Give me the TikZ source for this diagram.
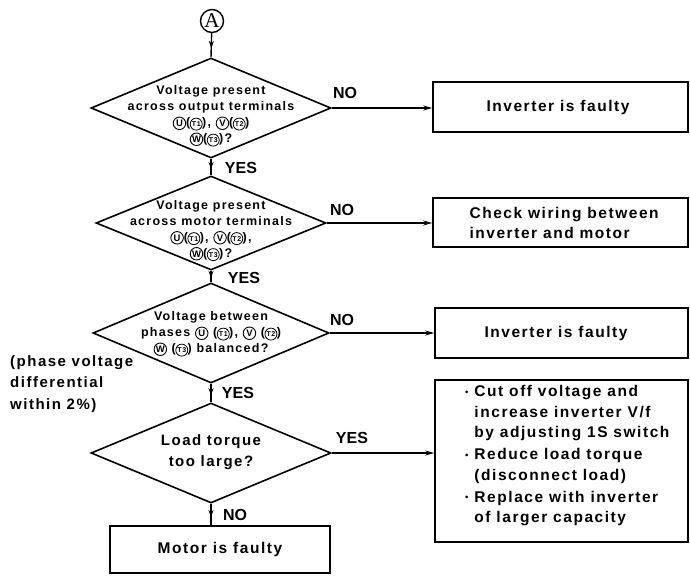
\documentclass[tikz,border=0pt]{standalone}
\usepackage{fontspec}
\setmainfont{Liberation Sans}
\newfontfamily\spfont{Liberation Sans}[LetterSpace=10]
\newfontfamily\serifA{Liberation Serif}
\usetikzlibrary{shapes.geometric,arrows.meta,decorations.markings}
\newcommand\cU[1]{\tikz[baseline=(cu.base)]\node[circle,draw,line width=0.9pt,inner sep=0pt,minimum size=12.5pt,font=\fontsize{9.5}{9.5}\selectfont\bfseries](cu){#1};}
\newcommand\cT[1]{(\kern-0.5pt\tikz[baseline=(ct.base)]\node[circle,draw,line width=0.8pt,inner sep=0pt,minimum size=12pt,font=\fontsize{7}{7}\selectfont\bfseries](ct){#1};\kern-0.5pt)}
\newcommand\smallbullet{\raisebox{1.5pt}{\scalebox{0.6}{\textbullet}}}
\tikzset{
  dia/.style={diamond,draw,line width=1.6pt,inner sep=0pt},
  dtext/.style={align=center,font=\spfont\bfseries\fontsize{12.5}{16}\selectfont},
  boxn/.style={rectangle,draw,line width=1.6pt,inner sep=0pt},
  btext/.style={font=\spfont\bfseries\fontsize{15.5}{20.5}\selectfont},
  lab/.style={font=\bfseries\fontsize{16}{16}\selectfont},
  vconn/.style={line width=1.4pt,postaction={decorate},decoration={markings,mark=at position 0.62 with {\arrow{Stealth[length=7pt,width=5pt]}}}},
  hconn/.style={line width=1.2pt,-{Stealth[length=9pt,width=5pt]}},
}
\begin{document}
\begin{tikzpicture}[x=1pt,y=-1pt]
\useasboundingbox (0,0) rectangle (690,583);
% start connector
\node[circle,draw,line width=1.4pt,minimum size=23pt,inner sep=0pt,font=\serifA\fontsize{21}{21}\selectfont] (A) at (212,21) {A};
% diamonds
\node[dia,minimum width=240pt,minimum height=100pt] (d1) at (211,108) {};
\node[dtext] (t1) at (211,116) {Voltage present\\across output terminals\\\cU{U}\cT{T1}, \cU{V}\cT{T2}\\\cU{W}\cT{T3}?};
\node[dia,minimum width=230pt,minimum height=94pt] (d2) at (211,223) {};
\node[dtext] (t2) at (211,230.5) {Voltage present\\across motor terminals\\\cU{U}\cT{T1}, \cU{V}\cT{T2},\\\cU{W}\cT{T3}?};
\node[dia,minimum width=236pt,minimum height=100pt] (d3) at (211,333) {};
\node[dtext] (t3) at (211,334) {Voltage between\\phases \cU{U} \cT{T1}, \cU{V} \cT{T2}\\\cU{W} \cT{T3} balanced?};
\node[dia,minimum width=240pt,minimum height=100pt] (d4) at (211,453) {};
\node[dtext,font=\spfont\bfseries\fontsize{15}{21}\selectfont] (t4) at (211,452) {Load torque\\too large?};
% boxes
\node[boxn,minimum width=255pt,minimum height=50pt] (b1) at (560.5,107) {};
\node[btext] (bt1) at (558,107) {Inverter is faulty};
\node[boxn,minimum width=255pt,minimum height=49pt] (b2) at (560.5,222.5) {};
\node[btext,align=left,anchor=west] (bt2) at (466,223) {Check wiring between\\inverter and motor};
\node[boxn,minimum width=253pt,minimum height=50pt] (b3) at (561.5,333) {};
\node[btext] (bt3) at (556,333) {Inverter is faulty};
\node[boxn,minimum width=253pt,minimum height=162pt] (b4) at (561.5,461) {};
\node[btext,anchor=north west,inner sep=0pt] (bt4) at (465,382) {\begin{tabular}{@{}l@{\hspace{6pt}}l@{}}
\smallbullet & Cut off voltage and\\
 & increase inverter V/f\\
 & by adjusting 1S switch\\[1.5pt]
\smallbullet & Reduce load torque\\
 & (disconnect load)\\[1.5pt]
\smallbullet & Replace with inverter\\
 & of larger capacity
\end{tabular}};
\node[boxn,minimum width=220pt,minimum height=47pt] (b5) at (220,549.5) {};
\node[btext] (bt5) at (220,549) {Motor is faulty};
% side note
\node[align=left,anchor=north west,inner sep=0pt,font=\spfont\bfseries\fontsize{15}{21.5}\selectfont] (note) at (10,355) {(phase voltage\\differential\\within 2\%)};
% connectors
\draw[vconn] (A) -- (d1.north);
\draw[vconn] (d1.south) -- (d2.north);
\draw[vconn] (d2.south) -- (d3.north);
\draw[vconn] (d3.south) -- (d4.north);
\draw[vconn] (d4.south) -- (d4.south |- b5.north);
\draw[hconn] (d1.east) -- (d1.east -| b1.west);
\draw[hconn] (d2.east) -- (d2.east -| b2.west);
\draw[hconn] (d3.east) -- (d3.east -| b3.west);
\draw[hconn] (d4.east) -- (d4.east -| b4.west);
% labels
\node[lab] (n1) at (345,93) {NO};
\node[lab] (y1) at (241,168) {YES};
\node[lab] (n2) at (342,210) {NO};
\node[lab] (y2) at (244,278) {YES};
\node[lab] (n3) at (342,320) {NO};
\node[lab] (y3) at (238,393) {YES};
\node[lab] (y4) at (352,438) {YES};
\node[lab] (n4) at (235,515) {NO};
\end{tikzpicture}
\end{document}
